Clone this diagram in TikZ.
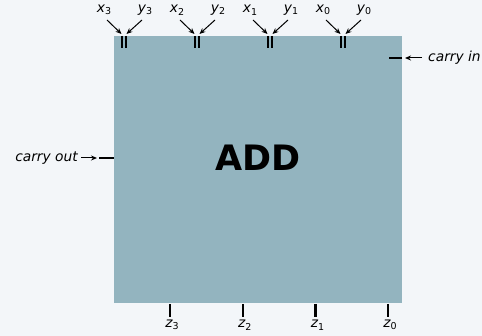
\documentclass[tikz,border=0pt]{standalone}
\usepackage{fontspec}
\setmainfont{DejaVu Sans}
\usetikzlibrary{arrows.meta}
\definecolor{bgc}{HTML}{F3F6F9}
\definecolor{boxc}{HTML}{93B4BF}
\newcommand{\vsub}[2]{{\itshape #1}\raisebox{-2.5pt}{\fontsize{9.5}{10}\selectfont\upshape #2}}
\begin{document}
\begin{tikzpicture}[x=1pt,y=-1pt,
  tick/.style={line width=2.2pt,black},
  arr/.style={line width=1pt,-{Stealth[length=6pt,width=5pt]}},
  lab/.style={font=\fontsize{13.8}{15}\selectfont\itshape,inner sep=1pt}]
\fill[bgc] (0,0) rectangle (482,336);
\useasboundingbox (0,0) rectangle (482,336);
\node[fill=boxc,minimum width=288pt,minimum height=267pt,inner sep=0,anchor=north west] (box) at (114,36) {};
\node[font=\fontsize{35}{40}\selectfont\bfseries] (add) at (258,158) {ADD};
% inputs
\foreach \k/\i in {0/3,1/2,2/1,3/0}{
  \pgfmathsetmacro{\c}{124+73*\k}
  \coordinate (xt\i) at (\c-2.2,36);
  \coordinate (yt\i) at (\c+2.2,36);
  \draw[tick] (xt\i) -- ++(0,12);
  \draw[tick] (yt\i) -- ++(0,12);
  \node[lab] (x\i) at (\c-20,10) {\vsub{x}{\i}};
  \node[lab] (y\i) at (\c+21,10) {\vsub{y}{\i}};
  \coordinate (xs\i) at (\c-17,20);
  \coordinate (ys\i) at (\c+18,20);
  \draw[arr] (xs\i) -- (\c-2.5,34);
  \draw[arr] (ys\i) -- (\c+2.5,34);
}
% outputs
\foreach \k/\i in {0/3,1/2,2/1,3/0}{
  \pgfmathsetmacro{\c}{170+72.7*\k}
  \coordinate (zt\i) at (\c,304);
  \draw[tick] (zt\i) -- ++(0,13);
  \node[lab] (z\i) at (\c+2,325) {\vsub{z}{\i}};
}
% carry in
\coordinate (cin) at (402,58);
\draw[tick] (cin) -- ++(-13,0);
\node[lab,anchor=west] (cinl) at (427,58) {carry in};
\draw[arr] ([xshift=-5pt]cinl.west) -- ([xshift=3pt]cin);
% carry out
\coordinate (cout) at (114,158);
\draw[tick] (cout) -- ++(-15,0);
\node[lab,anchor=east] (coutl) at (79,158) {carry out};
\draw[arr] ([xshift=2pt]coutl.east) -- ([xshift=-17pt]cout);
\end{tikzpicture}
\end{document}
